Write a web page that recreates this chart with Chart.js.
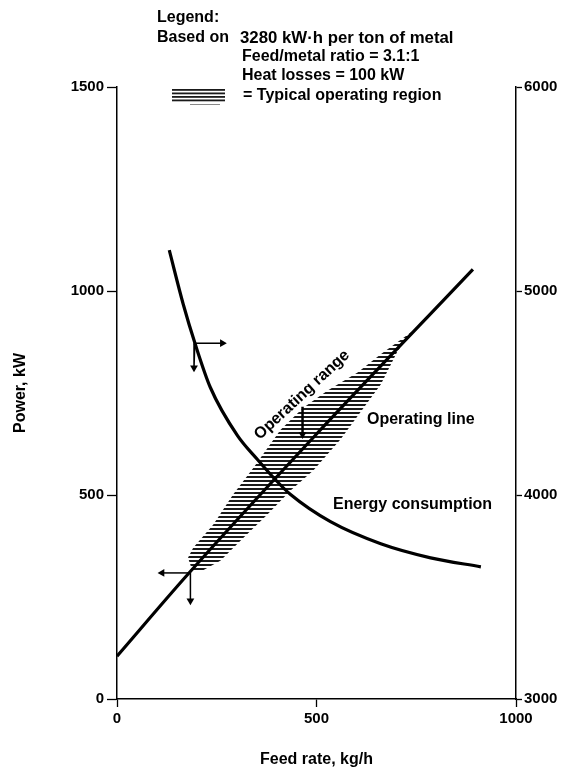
<!DOCTYPE html>
<html>
<head>
<meta charset="utf-8">
<script src="https://cdn.jsdelivr.net/npm/chart.js@4"></script>
<style>
  html, body { margin: 0; padding: 0; background: #fff; }
  canvas { display: block; }
</style>
</head>
<body>
<canvas id="c" width="564" height="769"></canvas>
<script>
// ---- Data ----
// Operating line (left axis, Power kW vs Feed rate kg/h)
const lineFeed  = [0, 176, 492, 892];
const linePower = [105, 304, 641, 1053];

// Energy consumption curve (right axis, kW·h per ton of metal)
const energyFeed  = [131, 166, 196, 234, 302, 352, 397, 435, 535, 661, 786, 912];
const energyValue = [5200, 4935, 4740, 4527, 4291, 4174, 4075, 4002, 3869, 3761, 3692, 3648];

// Typical operating region outline (hatched), left axis units
const hatchFeed  = [744, 661, 603, 528, 467, 410, 342, 291, 241, 191, 178, 188, 209, 259, 317, 377, 435, 492, 560, 661, 704, 744];
const hatchPower = [904, 845, 800, 756, 714, 660, 567, 501, 427, 371, 346, 317, 312, 339, 395, 452, 511, 560, 636, 771, 854, 904];

// Reading arrows (junction -> tip), left-axis units
const arrowEnergyRightFeed  = [196, 264];
const arrowEnergyRightPower = [872, 872];
const arrowEnergyDownFeed   = [195, 193];
const arrowEnergyDownPower  = [872, 812];
const arrowLineLeftFeed     = [183, 113];
const arrowLineLeftPower    = [309, 309];
const arrowLineDownFeed     = [184, 184];
const arrowLineDownPower    = [309, 241];
const arrowRangeFeed        = [465, 465];
const arrowRangePower       = [716, 648];

// Axis ticks
const feedTicks   = [0, 500, 1000];
const powerTicks  = [0, 500, 1000, 1500];
const energyTicks = [3000, 4000, 5000, 6000];

const pts = (xs, ys) => xs.map((x, i) => ({ x: x, y: ys[i] }));

// Horizontal hatch pattern
function hatchPattern() {
  const p = document.createElement('canvas');
  p.width = 8; p.height = 4;
  const g = p.getContext('2d');
  g.fillStyle = '#1a1a1a';
  g.fillRect(0, 0, 8, 2);
  return document.getElementById('c').getContext('2d').createPattern(p, 'repeat');
}

const FONT = '"Liberation Sans", Arial, Helvetica, sans-serif';

function arrowDataset(xs, ys, rot, width) {
  return {
    data: pts(xs, ys), yAxisID: 'y', showLine: true,
    borderColor: '#000', borderWidth: width || 1.5,
    pointRadius: [0, 4.5], pointStyle: 'triangle', pointRotation: [0, rot],
    pointBackgroundColor: '#000', pointBorderColor: '#000', pointBorderWidth: 0,
    order: 0
  };
}

const textPlugin = {
  id: 'texts',
  afterDatasetsDraw(chart) {
    const ctx = chart.ctx;
    ctx.save();
    ctx.fillStyle = '#000';
    ctx.textBaseline = 'middle';
    ctx.textAlign = 'left';
    ctx.font = 'bold 16px ' + FONT;
    // Legend block
    ctx.fillText('Legend:', 157, 18);
    ctx.fillText('Based on', 157, 38);
    ctx.font = 'bold 16.8px ' + FONT;
    ctx.fillText('3280 kW·h per ton of metal', 240, 38);
    ctx.font = 'bold 16px ' + FONT;
    ctx.fillText('Feed/metal ratio = 3.1:1', 242, 57);
    ctx.fillText('Heat losses = 100 kW', 242, 76);
    ctx.fillText('= Typical operating region', 243, 96);
    // legend hatch icon
    ctx.fillStyle = '#1a1a1a';
    for (let i = 0; i < 4; i++) ctx.fillRect(172, 89 + i * 3.5, 53, 1.8);
    ctx.fillStyle = '#888';
    ctx.fillRect(190, 104, 30, 1);
    ctx.fillStyle = '#000';
    // In-plot labels
    ctx.fillText('Operating line', 367, 420);
    ctx.fillText('Energy consumption', 333, 505);
    ctx.save();
    ctx.translate(302, 395);
    ctx.rotate(-43 * Math.PI / 180);
    ctx.textAlign = 'center';
    ctx.fillText('Operating range', 0, 0);
    ctx.restore();
    ctx.restore();
  }
};

const tickFont = { family: FONT, size: 15, weight: 'bold' };
const titleFont = { family: FONT, size: 16, weight: 'bold' };
const plain = v => String(v);

new Chart(document.getElementById('c'), {
  type: 'scatter',
  data: {
    datasets: [
      {
        data: pts(hatchFeed, hatchPower), yAxisID: 'y', showLine: true,
        borderWidth: 0, borderColor: 'rgba(0,0,0,0)', pointRadius: 0,
        fill: 'shape', backgroundColor: hatchPattern(), tension: 0, order: 5
      },
      {
        data: pts(lineFeed, linePower), yAxisID: 'y', showLine: true,
        borderColor: '#000', borderWidth: 3.2, pointRadius: 0,
        cubicInterpolationMode: 'monotone', fill: false, order: 1
      },
      {
        data: pts(energyFeed, energyValue), yAxisID: 'y2', showLine: true,
        borderColor: '#000', borderWidth: 3.2, pointRadius: 0,
        cubicInterpolationMode: 'monotone', fill: false, order: 1
      },
      arrowDataset(arrowEnergyRightFeed, arrowEnergyRightPower, 90),
      arrowDataset(arrowEnergyDownFeed, arrowEnergyDownPower, 180),
      arrowDataset(arrowLineLeftFeed, arrowLineLeftPower, 270),
      arrowDataset(arrowLineDownFeed, arrowLineDownPower, 180),
      arrowDataset(arrowRangeFeed, arrowRangePower, 180, 2.5)
    ]
  },
  options: {
    responsive: false,
    animation: false,
    events: [],
    layout: { padding: { top: 87, left: 0, right: 0, bottom: 0 } },
    plugins: { legend: { display: false }, tooltip: { enabled: false } },
    scales: {
      x: {
        type: 'linear', position: 'bottom',
        min: feedTicks[0], max: feedTicks[feedTicks.length - 1],
        afterBuildTicks: s => { s.ticks = feedTicks.map(v => ({ value: v })); },
        ticks: { color: '#000', font: tickFont, padding: 3, maxRotation: 0, callback: plain },
        grid: { drawOnChartArea: false, drawTicks: true, tickLength: 8, color: '#000', tickWidth: 1.3 },
        border: { display: true, color: '#000', width: 1.5 },
        title: { display: true, text: 'Feed rate, kg/h', color: '#000', font: titleFont, padding: { top: 0, bottom: 0 } },
        afterFit: s => { s.height = 70; }
      },
      y: {
        type: 'linear', position: 'left',
        min: powerTicks[0], max: powerTicks[powerTicks.length - 1],
        afterBuildTicks: s => { s.ticks = powerTicks.map(v => ({ value: v })); },
        ticks: { color: '#000', font: tickFont, padding: 3, callback: plain },
        grid: { drawOnChartArea: false, drawTicks: true, tickLength: 10, color: '#000', tickWidth: 1.3 },
        border: { display: true, color: '#000', width: 1.5 },
        title: { display: true, text: 'Power, kW', color: '#000', font: titleFont, padding: { top: 11, bottom: 0 } },
        afterFit: s => { s.width = 117; }
      },
      y2: {
        type: 'linear', position: 'right',
        min: energyTicks[0], max: energyTicks[energyTicks.length - 1],
        afterBuildTicks: s => { s.ticks = energyTicks.map(v => ({ value: v })); },
        ticks: { color: '#000', font: tickFont, padding: 2, callback: plain },
        grid: { drawOnChartArea: false, drawTicks: true, tickLength: 6, color: '#000', tickWidth: 1.3 },
        border: { display: true, color: '#000', width: 1.5 },
        afterFit: s => { s.width = 48; }
      }
    }
  },
  plugins: [textPlugin]
});
</script>
</body>
</html>
